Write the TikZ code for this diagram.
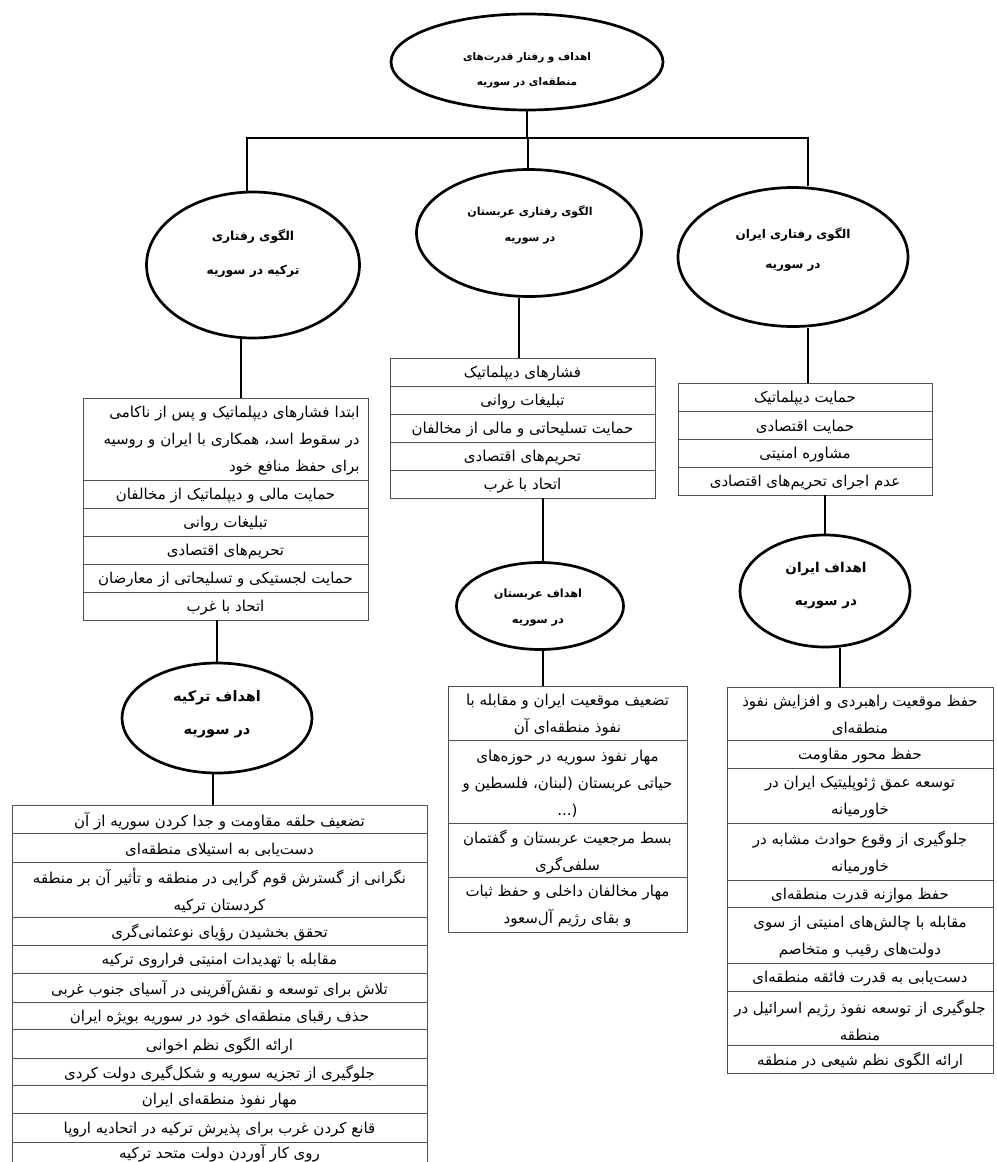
\documentclass[tikz,border=0pt]{standalone}
\usepackage{fontspec}
\usetikzlibrary{shapes.geometric,calc}
\newfontfamily\fa[Script=Arabic]{DejaVu Sans}
\TeXXeTstate=1
\newcommand\myR[1]{\raisebox{-2pt}[\height][\depth]{\beginR #1\endR}}
\newcommand\myRup[1]{\raisebox{3pt}[\height][\depth]{\beginR #1\endR}}
\newcommand\tfont{\fa\fontsize{15}{27}\selectfont}
\definecolor{cellgray}{HTML}{505050}
\newcommand\trow[6]{\node[cell,anchor=north west,minimum width={#3-#2},minimum height={#5-#4}] (#1) at (#2,#4) {#6};}
\begin{document}
\begin{tikzpicture}[x=1pt,y=-1pt,
  ell/.style={ellipse,draw,line width=2.7pt,inner sep=0pt},
  etext/.style={align=center,inner sep=0pt},
  cell/.style={draw=cellgray,line width=1pt,inner sep=0pt,outer sep=0pt,align=center,font=\tfont,text=black},
  conn/.style={line width=2.6pt,black}]
\useasboundingbox (0,0) rectangle (996,1162);

% ---- ellipses
\node[ell,minimum width=272,minimum height=96] (topE) at (527,62) {};
\node[etext,font=\fa\bfseries\fontsize{10.5}{25}\selectfont] (topT) at (527,68) {\myR{اهداف و رفتار قدرت^^^^200cهای}\\\myR{منطقه^^^^200cای در سوریه}};

\node[ell,minimum width=213,minimum height=146] (turkE) at (253,265) {};
\node[etext,font=\fa\bfseries\fontsize{12.3}{34}\selectfont] (turkT) at (253,251) {\myR{الگوی رفتاری}\\\myR{ترکیه در سوریه}};

\node[ell,minimum width=225,minimum height=127] (arabE) at (529,233) {};
\node[etext,font=\fa\bfseries\fontsize{11}{26}\selectfont] (arabT) at (530,223) {\myR{الگوی رفتاری عربستان}\\\myR{در سوریه}};

\node[ell,minimum width=230,minimum height=139] (iranE) at (793,257) {};
\node[etext,font=\fa\bfseries\fontsize{12}{30}\selectfont] (iranT) at (793,248) {\myR{الگوی رفتاری ایران}\\\myR{در سوریه}};

\node[ell,minimum width=190,minimum height=110] (tgE) at (217,718) {};
\node[etext,font=\fa\bfseries\fontsize{14.5}{33}\selectfont] (tgT) at (217,712) {\myR{اهداف ترکیه}\\\myR{در سوریه}};

\node[ell,minimum width=167,minimum height=87] (agE) at (540,606) {};
\node[etext,font=\fa\bfseries\fontsize{11.3}{26}\selectfont] (agT) at (538,606) {\myR{اهداف عربستان}\\\myR{در سوریه}};

\node[ell,minimum width=170,minimum height=112] (igE) at (825,591) {};
\node[etext,font=\fa\bfseries\fontsize{13.5}{33}\selectfont] (igT) at (826,584) {\myR{اهداف ایران}\\\myR{در سوریه}};

% ---- Turkey behaviour table
\node[cell,anchor=north west,minimum width=285,minimum height=82,text width=268,align=right] (tb1) at (83,398) {\myR{ابتدا فشارهای دیپلماتیک و پس از ناکامی}\\\myR{در سقوط اسد، همکاری با ایران و روسیه}\\\myR{برای حفظ منافع خود}};
\trow{tb2}{83}{368}{480}{508}{\myR{حمایت مالی و دیپلماتیک از مخالفان}}
\trow{tb3}{83}{368}{508}{536}{\myR{تبلیغات روانی}}
\trow{tb4}{83}{368}{536}{564}{\myR{تحریم^^^^200cهای اقتصادی}}
\trow{tb5}{83}{368}{564}{592}{\myR{حمایت لجستیکی و تسلیحاتی از معارضان}}
\trow{tb6}{83}{368}{592}{620}{\myR{اتحاد با غرب}}

% ---- Arabia behaviour table
\trow{ab1}{390}{655}{358}{386}{\myR{فشارهای دیپلماتیک}}
\trow{ab2}{390}{655}{386}{414}{\myR{تبلیغات روانی}}
\trow{ab3}{390}{655}{414}{442}{\myR{حمایت تسلیحاتی و مالی از مخالفان}}
\trow{ab4}{390}{655}{442}{470}{\myR{تحریم^^^^200cهای اقتصادی}}
\trow{ab5}{390}{655}{470}{498}{\myR{اتحاد با غرب}}

% ---- Iran behaviour table
\trow{ib1}{678}{932}{383}{411}{\myR{حمایت دیپلماتیک}}
\trow{ib2}{678}{932}{411}{439}{\myR{حمایت اقتصادی}}
\trow{ib3}{678}{932}{439}{467}{\myR{مشاوره امنیتی}}
\trow{ib4}{678}{932}{467}{495}{\myR{عدم اجرای تحریم^^^^200cهای اقتصادی}}

% ---- Arabia goals table
\trow{ag1}{448}{687}{686}{740}{\myR{تضعیف موقعیت ایران و مقابله با}\\\myR{نفوذ منطقه^^^^200cای آن}}
\trow{ag2}{448}{687}{740}{823}{\myR{مهار نفوذ سوریه در حوزه^^^^200cهای}\\\myR{حیاتی عربستان (لبنان، فلسطین و}\\\raisebox{-2pt}[\height][\depth]{(...}}
\trow{ag3}{448}{687}{823}{877}{\myR{بسط مرجعیت عربستان و گفتمان}\\\myR{سلفی^^^^200cگری}}
\trow{ag4}{448}{687}{877}{932}{\myR{مهار مخالفان داخلی و حفظ ثبات}\\\myR{و بقای رژیم آل^^^^200cسعود}}

% ---- Iran goals table
\trow{ig1}{727}{993}{687}{740}{\myR{حفظ موقعیت راهبردی و افزایش نفوذ}\\\myR{منطقه^^^^200cای}}
\trow{ig2}{727}{993}{740}{768}{\myR{حفظ محور مقاومت}}
\trow{ig3}{727}{993}{768}{823}{\myR{توسعه عمق ژئوپلیتیک ایران در}\\\myR{خاورمیانه}}
\trow{ig4}{727}{993}{823}{880}{\myR{جلوگیری از وقوع حوادث مشابه در}\\\myR{خاورمیانه}}
\trow{ig5}{727}{993}{880}{907}{\myR{حفظ موازنه قدرت منطقه^^^^200cای}}
\trow{ig6}{727}{993}{907}{963}{\myR{مقابله با چالش^^^^200cهای امنیتی از سوی}\\\myR{دولت^^^^200cهای رقیب و متخاصم}}
\trow{ig7}{727}{993}{963}{991}{\myR{دست^^^^200cیابی به قدرت فائقه منطقه^^^^200cای}}
\trow{ig8}{727}{993}{991}{1045}{\myR{جلوگیری از توسعه نفوذ رژیم اسرائیل در}\\\myR{منطقه}}
\trow{ig9}{727}{993}{1045}{1073}{\myR{ارائه الگوی نظم شیعی در منطقه}}

% ---- Turkey goals table
\trow{tg1}{12}{427}{805}{833}{\myR{تضعیف حلقه مقاومت و جدا کردن سوریه از آن}}
\trow{tg2}{12}{427}{833}{862}{\myR{دست^^^^200cیابی به استیلای منطقه^^^^200cای}}
\trow{tg3}{12}{427}{862}{917}{\myR{نگرانی از گسترش قوم گرایی در منطقه و تأثیر آن بر منطقه}\\\myR{کردستان ترکیه}}
\trow{tg4}{12}{427}{917}{945}{\myR{تحقق بخشیدن رؤیای نوعثمانی^^^^200cگری}}
\trow{tg5}{12}{427}{945}{973}{\myR{مقابله با تهدیدات امنیتی فراروی ترکیه}}
\trow{tg6}{12}{427}{973}{1002}{\myR{تلاش برای توسعه و نقش^^^^200cآفرینی در آسیای جنوب غربی}}
\trow{tg7}{12}{427}{1002}{1029}{\myR{حذف رقبای منطقه^^^^200cای خود در سوریه بویژه ایران}}
\trow{tg8}{12}{427}{1029}{1058}{\myR{ارائه الگوی نظم اخوانی}}
\trow{tg9}{12}{427}{1058}{1085}{\myR{جلوگیری از تجزیه سوریه و شکل^^^^200cگیری دولت کردی}}
\trow{tg10}{12}{427}{1085}{1113}{\myR{مهار نفوذ منطقه^^^^200cای ایران}}
\trow{tg11}{12}{427}{1113}{1142}{\myR{قانع کردن غرب برای پذیرش ترکیه در اتحادیه اروپا}}
\trow{tg12}{12}{427}{1142}{1170}{\myRup{روی کار آوردن دولت متحد ترکیه}}

% ---- connectors
\coordinate (barR) at (808,138);
\draw[conn] ([xshift=-6pt]turkE.north) |- (barR) -- ([xshift=15pt]iranE.north);
\draw[conn] (topE.south) -- (topE.south |- barR);
\draw[conn] ([xshift=-1pt]arabE.north |- barR) -- ([xshift=-1pt]arabE.north);

\draw[conn] ([xshift=-12pt]turkE.south) -- ([xshift=-12pt]turkE.south |- tb1.north);
\draw[conn] (tgE.north |- tb6.south) -- (tgE.north);
\draw[conn] ([xshift=-4pt]tgE.south) -- ([xshift=-4pt]tgE.south |- tg1.north);

\draw[conn] ([xshift=-10pt]arabE.south) -- ([xshift=-10pt]arabE.south |- ab1.north);
\draw[conn] ([xshift=3pt]agE.north |- ab5.south) -- ([xshift=3pt]agE.north);
\draw[conn] ([xshift=3pt]agE.south) -- ([xshift=3pt]agE.south |- ag1.north);

\draw[conn] ([xshift=15pt]iranE.south) -- ([xshift=15pt]iranE.south |- ib1.north);
\draw[conn] (igE.north |- ib4.south) -- (igE.north);
\draw[conn] ([xshift=15pt]igE.south) -- ([xshift=15pt]igE.south |- ig1.north);
\end{tikzpicture}
\end{document}
